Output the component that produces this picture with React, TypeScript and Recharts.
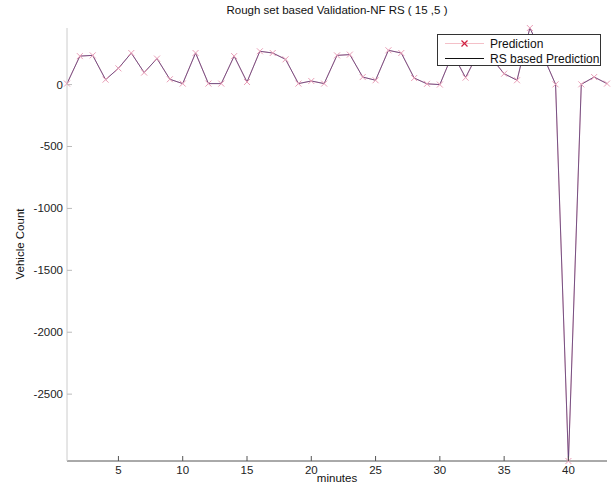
import { Line, LineChart, XAxis, YAxis } from "recharts";

const minutes = [
  1, 2, 3, 4, 5, 6, 7, 8, 9, 10, 11, 12, 13, 14, 15, 16, 17, 18, 19, 20, 21, 22,
  23, 24, 25, 26, 27, 28, 29, 30, 31, 32, 33, 34, 35, 36, 37, 38, 39, 40, 41, 42, 43
];
const prediction = [
  8, 230, 236, 40, 131, 255, 97, 210, 43, 8, 255, 8, 8, 230, 21, 269, 255, 204, 8, 29, 8, 236,
  242, 61, 35, 277, 255, 53, 6, 0, 250, 56, 260, 215, 88, 35, 457, 240, 2, -3040, 2, 61, 8
];
const rsPrediction = [
  8, 230, 236, 40, 131, 255, 97, 210, 43, 8, 255, 8, 8, 230, 21, 269, 255, 204, 8, 29, 8, 236,
  242, 61, 35, 277, 255, 53, 6, 0, 250, 56, 260, 215, 88, 35, 457, 240, 2, -3040, 2, 61, 8
];
const xTicks = [5, 10, 15, 20, 25, 30, 35, 40];
const yTicks = [-2500, -2000, -1500, -1000, -500, 0];

const FONT = "'Liberation Sans', Arial, sans-serif";
const W = 616;
const H = 487;

const data = minutes.map((m, i) => ({ minute: m, prediction: prediction[i], rs: rsPrediction[i] }));
const yMin = Math.min(...prediction, ...rsPrediction);
const yMax = Math.max(...prediction, ...rsPrediction);

function BottomTick({ x, y, payload }: any) {
  return (
    <g>
      <line x1={x} y1={y} x2={x} y2={y - 5} stroke="#555" />
      <text x={x} y={y + 13} textAnchor="middle" fontSize={11.5} fontFamily={FONT} fill="#222">
        {payload.value}
      </text>
    </g>
  );
}

function TopTick({ x, y }: any) {
  return <line x1={x} y1={y} x2={x} y2={y + 5} stroke="#555" />;
}

function LeftTick({ x, y, payload }: any) {
  return (
    <g>
      <line x1={x} y1={y} x2={x + 5} y2={y} stroke="#bbb" />
      <text x={x - 4} y={y + 4} textAnchor="end" fontSize={11.5} fontFamily={FONT} fill="#222">
        {payload.value}
      </text>
    </g>
  );
}

function RightTick({ x, y }: any) {
  return <line x1={x} y1={y} x2={x - 5} y2={y} stroke="#444" />;
}

function Cross({ cx, cy, index }: any) {
  if (cx == null || cy == null) return <g key={index} />;
  const s = 3;
  return (
    <path
      key={index}
      d={`M${cx - s},${cy - s}L${cx + s},${cy + s}M${cx - s},${cy + s}L${cx + s},${cy - s}`}
      stroke="#eaa0b8"
      strokeWidth={1}
      fill="none"
    />
  );
}

function LegendBox() {
  return (
    <div
      style={{
        position: "absolute",
        left: 437,
        top: 34,
        width: 162,
        height: 30,
        border: "1px solid #333",
        background: "#fff",
        fontFamily: FONT,
        fontSize: 12,
        color: "#111",
        whiteSpace: "nowrap",
        boxSizing: "content-box",
        zIndex: 2
      }}
    >
      <div style={{ display: "flex", alignItems: "center", height: 15, marginTop: 1 }}>
        <svg width={42} height={15} style={{ marginLeft: 7, marginRight: 3, flex: "none" }}>
          <line x1={0} y1={7.5} x2={39} y2={7.5} stroke="#f4c0c8" />
          <path d="M16.5,4.5L22.5,10.5M16.5,10.5L22.5,4.5" stroke="#d02040" strokeWidth={1.2} />
        </svg>
        <span>Prediction</span>
      </div>
      <div style={{ display: "flex", alignItems: "center", height: 15 }}>
        <svg width={42} height={15} style={{ marginLeft: 7, marginRight: 3, flex: "none" }}>
          <line x1={0} y1={7.5} x2={39} y2={7.5} stroke="#111" />
        </svg>
        <span>RS based Prediction</span>
      </div>
    </div>
  );
}

export default function App() {
  return (
    <div style={{ position: "absolute", left: 0, top: 0, width: W, height: H, background: "#fff" }}>
      <div
        style={{
          position: "absolute",
          left: 67,
          width: 540,
          top: 4,
          textAlign: "center",
          fontFamily: FONT,
          fontSize: 11.5,
          color: "#111"
        }}
      >
        Rough set based Validation-NF RS ( 15 ,5 )
      </div>
      <div
        style={{
          position: "absolute",
          left: 67,
          width: 540,
          top: 472,
          textAlign: "center",
          fontFamily: FONT,
          fontSize: 11.5,
          color: "#111"
        }}
      >
        minutes
      </div>
      <div
        style={{
          position: "absolute",
          left: 20,
          top: 244,
          transform: "translate(-50%, -50%) rotate(-90deg)",
          whiteSpace: "nowrap",
          fontFamily: FONT,
          fontSize: 11.5,
          color: "#111"
        }}
      >
        Vehicle Count
      </div>
      <LineChart width={W} height={H} data={data} margin={{ top: 28, right: 9, bottom: 0, left: 7 }}>
        <XAxis
          dataKey="minute"
          type="number"
          domain={[1, 43]}
          ticks={xTicks}
          height={26}
          tickSize={0}
          tickMargin={0}
          tick={BottomTick}
          axisLine={{ stroke: "#555" }}
        />
        <XAxis
          xAxisId="top"
          orientation="top"
          dataKey="minute"
          type="number"
          domain={[1, 43]}
          ticks={xTicks}
          height={0}
          tickSize={0}
          tickMargin={0}
          tick={TopTick}
          axisLine={{ stroke: "#666" }}
        />
        <YAxis
          type="number"
          domain={[yMin, yMax]}
          ticks={yTicks}
          width={60}
          tickSize={0}
          tickMargin={0}
          tick={LeftTick}
          axisLine={{ stroke: "#ccc" }}
        />
        <YAxis
          yAxisId="right"
          orientation="right"
          type="number"
          domain={[yMin, yMax]}
          ticks={yTicks}
          width={0}
          tickSize={0}
          tickMargin={0}
          tick={RightTick}
          axisLine={{ stroke: "#444" }}
        />
        <Line
          dataKey="prediction"
          name="Prediction"
          stroke="#e88aa0"
          strokeWidth={1}
          dot={Cross}
          activeDot={false}
          isAnimationActive={false}
        />
        <Line
          dataKey="rs"
          name="RS based Prediction"
          stroke="#2a2a70"
          strokeOpacity={0.6}
          strokeWidth={1}
          dot={false}
          activeDot={false}
          isAnimationActive={false}
        />
      </LineChart>
      <LegendBox />
    </div>
  );
}
